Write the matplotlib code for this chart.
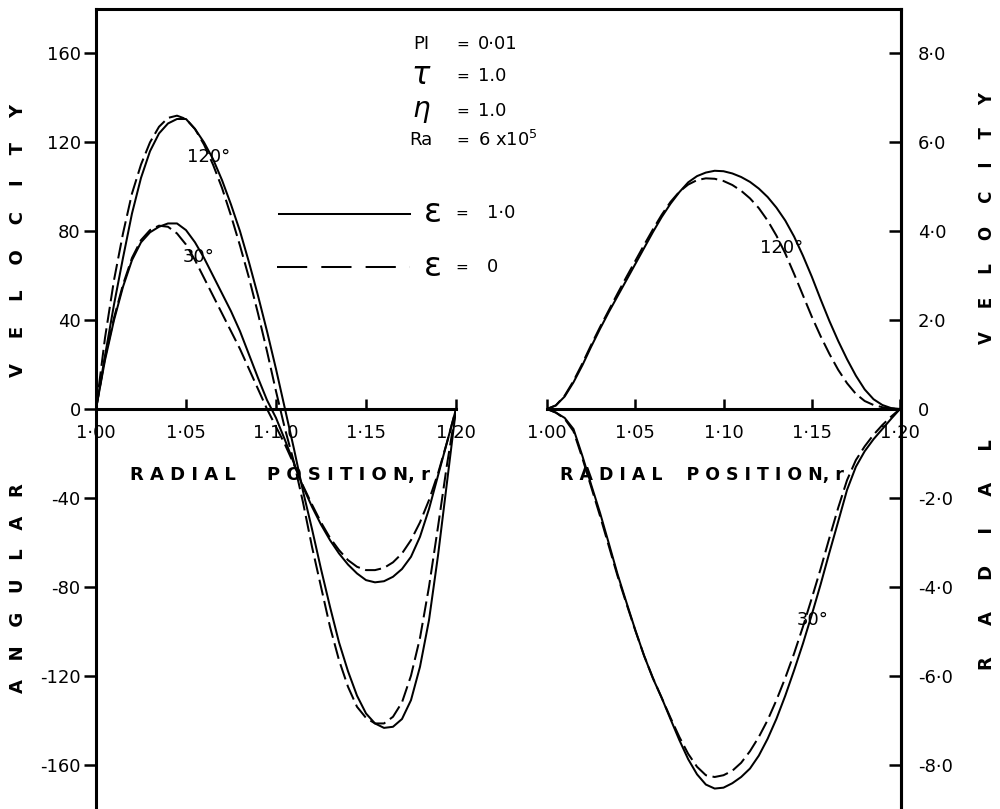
import matplotlib
matplotlib.use("Agg")
import matplotlib.pyplot as plt

# =====================================================
# DATA
# =====================================================

radius = [1.000, 1.005, 1.010, 1.015, 1.020, 1.025, 1.030, 1.035, 1.040,
          1.045, 1.050, 1.055, 1.060, 1.065, 1.070, 1.075, 1.080, 1.085,
          1.090, 1.095, 1.100, 1.105, 1.110, 1.115, 1.120, 1.125, 1.130,
          1.135, 1.140, 1.145, 1.150, 1.155, 1.160, 1.165, 1.170, 1.175,
          1.180, 1.185, 1.190, 1.195, 1.200]

# angular velocity (left scale)
ang_120_solid = [0, 24, 47, 68, 88, 104, 116, 124, 128.5, 130.5, 130.5, 126,
                 120, 112.5, 103, 92, 80, 66, 51, 35, 18, 0, -18, -37, -54,
                 -72, -89, -105, -118, -129, -137, -141.5, -143.5, -143,
                 -139.5, -131, -116, -95, -66, -33, 0]
ang_120_dash = [0, 32, 58, 79, 97, 110, 120, 127, 131, 132, 130.5, 126, 119,
                110, 99.5, 87, 73.5, 59, 43, 26, 8, -9, -24, -42, -62, -80,
                -98, -113, -125, -134, -139, -141.5, -141.5, -138.5, -132,
                -120, -103, -80, -53, -25, 0]
ang_30_solid = [0, 22, 40, 55, 67, 75, 79.5, 82, 83.5, 83.5, 80.5, 75, 68, 60,
                52, 44, 35, 24.5, 14, 4, -4, -14, -24.5, -35, -44, -52, -59,
                -65, -70, -74, -77, -78, -77.5, -75.5, -72, -66.5, -57.5, -45,
                -30, -15, 0]
ang_30_dash = [0, 23, 41, 56, 68, 76, 80.5, 82.5, 82, 79, 74, 67, 59, 51, 43,
               35, 27, 18, 9, 0, -8, -16, -25, -34.5, -43, -51, -58, -63.5,
               -68, -71, -72.5, -72.5, -71.5, -69, -65, -59, -51, -41, -29,
               -15, 0]

# radial velocity (right scale)
rad_120_solid = [0, 0.08, 0.28, 0.6, 0.98, 1.4, 1.8, 2.18, 2.54, 2.9, 3.26,
                 3.62, 3.98, 4.32, 4.62, 4.88, 5.1, 5.24, 5.32, 5.36, 5.35,
                 5.3, 5.22, 5.11, 4.96, 4.77, 4.53, 4.24, 3.88, 3.45, 2.98,
                 2.47, 1.98, 1.53, 1.12, 0.75, 0.44, 0.22, 0.09, 0.02, 0]
rad_120_dash = [0, 0.08, 0.3, 0.63, 1.02, 1.44, 1.84, 2.22, 2.6, 2.97, 3.33,
                3.69, 4.04, 4.37, 4.66, 4.89, 5.05, 5.15, 5.19, 5.18, 5.13,
                5.04, 4.91, 4.74, 4.52, 4.24, 3.9, 3.5, 3.04, 2.56, 2.08,
                1.64, 1.24, 0.88, 0.58, 0.34, 0.18, 0.09, 0.04, 0.01, 0]
rad_30_solid = [0, -0.08, -0.2, -0.45, -1.05, -1.7, -2.33, -3.02, -3.72,
                -4.35, -4.97, -5.55, -6.06, -6.5, -6.98, -7.45, -7.88, -8.22,
                -8.45, -8.54, -8.52, -8.42, -8.28, -8.09, -7.8, -7.42, -6.97,
                -6.45, -5.88, -5.28, -4.63, -3.95, -3.23, -2.53, -1.82, -1.3,
                -0.95, -0.68, -0.45, -0.22, 0]
rad_30_dash = [0, -0.08, -0.22, -0.5, -1.1, -1.75, -2.4, -3.08, -3.76, -4.38,
               -4.98, -5.55, -6.05, -6.5, -6.95, -7.38, -7.76, -8.05, -8.24,
               -8.28, -8.24, -8.14, -7.96, -7.7, -7.38, -7.0, -6.55, -6.05,
               -5.5, -4.9, -4.26, -3.6, -2.9, -2.22, -1.6, -1.15, -0.84,
               -0.58, -0.36, -0.17, 0]

x_ticks = [1.00, 1.05, 1.10, 1.15, 1.20]
x_labels_left = ["1·00", "1·05", "1·1 0", "1·15", "1·20"]
x_labels_right = ["1·00", "1·05", "1·10", "1·15", "1·20"]

ang_ticks = [160, 120, 80, 40, 0, -40, -80, -120, -160]
ang_labels = ["160", "120", "80", "40", "0", "-40", "-80", "-120", "-160"]
rad_ticks = [8, 6, 4, 2, 0, -2, -4, -6, -8]
rad_labels = ["8·0", "6·0", "4·0", "2·0", "0", "-2·0", "-4·0", "-6·0", "-8·0"]

# =====================================================
# FIGURE
# =====================================================

W, H = 1000, 809
fig = plt.figure(figsize=(W / 100, H / 100), dpi=100)


def fx(px):
    return px / W


def fy(py):
    return 1 - py / H


LW = 1.45
DASH = (8, 2.8)
AX_H = 800 / H

# frame with both velocity scales
frame = fig.add_axes([fx(96), 0, fx(901) - fx(96), AX_H])
frame.set_xlim(0, 1)
frame.set_ylim(-180, 180)
frame.set_xticks([])
frame.spines["bottom"].set_visible(False)
for s in ["left", "top", "right"]:
    frame.spines[s].set_linewidth(2.2)
frame.set_yticks(ang_ticks)
frame.set_yticklabels(ang_labels, fontsize=13)
frame.tick_params(axis="y", direction="out", length=9, width=1.8, pad=2)

twin = frame.twinx()
twin.set_ylim(-9, 9)
twin.set_yticks(rad_ticks)
twin.set_yticklabels(rad_labels, fontsize=13)
twin.tick_params(axis="y", direction="in", length=9, width=1.8, pad=12)
for s in ["left", "top", "bottom"]:
    twin.spines[s].set_visible(False)
twin.spines["right"].set_linewidth(2.2)


def panel(left_px, right_px, ylim, labels):
    ax = fig.add_axes([fx(left_px), 0, fx(right_px) - fx(left_px), AX_H])
    ax.set_facecolor("none")
    ax.set_xlim(1.0, 1.2)
    ax.set_ylim(*ylim)
    for s in ["left", "right", "top"]:
        ax.spines[s].set_visible(False)
    ax.spines["bottom"].set_position(("data", 0))
    ax.spines["bottom"].set_linewidth(2.2)
    ax.set_yticks([])
    ax.set_xticks(x_ticks)
    ax.set_xticklabels(labels, fontsize=13)
    ax.tick_params(axis="x", direction="in", length=7, width=1.8, pad=11)
    return ax


lax = panel(96, 456, (-180, 180), x_labels_left)
rax = panel(547, 900, (-9, 9), x_labels_right)

# angular velocity curves
lax.plot(radius, ang_120_solid, color="black", lw=LW)
lax.plot(radius, ang_120_dash, color="black", lw=LW, dashes=DASH)
lax.plot(radius, ang_30_solid, color="black", lw=LW)
lax.plot(radius, ang_30_dash, color="black", lw=LW, dashes=DASH)

# radial velocity curves
rax.plot(radius, rad_120_solid, color="black", lw=LW)
rax.plot(radius, rad_120_dash, color="black", lw=LW, dashes=DASH)
rax.plot(radius, rad_30_solid, color="black", lw=LW)
rax.plot(radius, rad_30_dash, color="black", lw=LW, dashes=DASH)

# curve labels
for txt, px, py in [("120°", 209, 157), ("30°", 199, 257),
                    ("120°", 782, 248), ("30°", 813, 620)]:
    fig.text(fx(px), fy(py), txt, fontsize=13, ha="center", va="center")

# axis titles
fig.text(fx(280), fy(475), "R A D I A L     P O S I T I O N, r",
         fontsize=13, fontweight="bold", ha="center", va="center")
fig.text(fx(702), fy(475), "R A D I A L    P O S I T I O N, r",
         fontsize=12.5, fontweight="bold", ha="center", va="center")

fig.text(fx(18), fy(240), "V    E    L    O    C    I    T    Y",
         fontsize=13, fontweight="bold", rotation=90, ha="center", va="center")
fig.text(fx(18), fy(588), "A   N   G   U   L   A   R",
         fontsize=13, fontweight="bold", rotation=90, ha="center", va="center")
fig.text(fx(987), fy(218), "V    E    L    O    C    I    T    Y",
         fontsize=12, fontweight="bold", rotation=90, ha="center", va="center")
fig.text(fx(987), fy(555), "R     A     D     I     A     L",
         fontsize=13, fontweight="bold", rotation=90, ha="center", va="center")

# parameter block
params = [("PI", "0·01", 44, 13), (r"$\tau$", "1.0", 76, 22),
          (r"$\eta$", "1.0", 111, 20), ("Ra", r"6 x10$^5$", 140, 13)]
for name, val, py, size in params:
    fig.text(fx(421), fy(py), name, fontsize=size, ha="center", va="center")
    fig.text(fx(463), fy(py), "=", fontsize=11, ha="center", va="center")
    fig.text(fx(478), fy(py), val, fontsize=13, ha="left", va="center")

# legend
fig.add_artist(plt.Line2D([fx(279), fx(410)], [fy(214), fy(214)],
                          color="black", lw=LW))
fig.add_artist(plt.Line2D([fx(277), fx(410)], [fy(267), fy(267)],
                          color="black", lw=LW, dashes=(15, 7)))
for val, py in [("1·0", 213), ("0", 267)]:
    fig.text(fx(433), fy(py), "ε", fontsize=24, ha="center", va="center")
    fig.text(fx(462), fy(py), "=", fontsize=11, ha="center", va="center")
    fig.text(fx(487), fy(py), val, fontsize=13, ha="left", va="center")

fig.savefig("out.png", dpi=100)
